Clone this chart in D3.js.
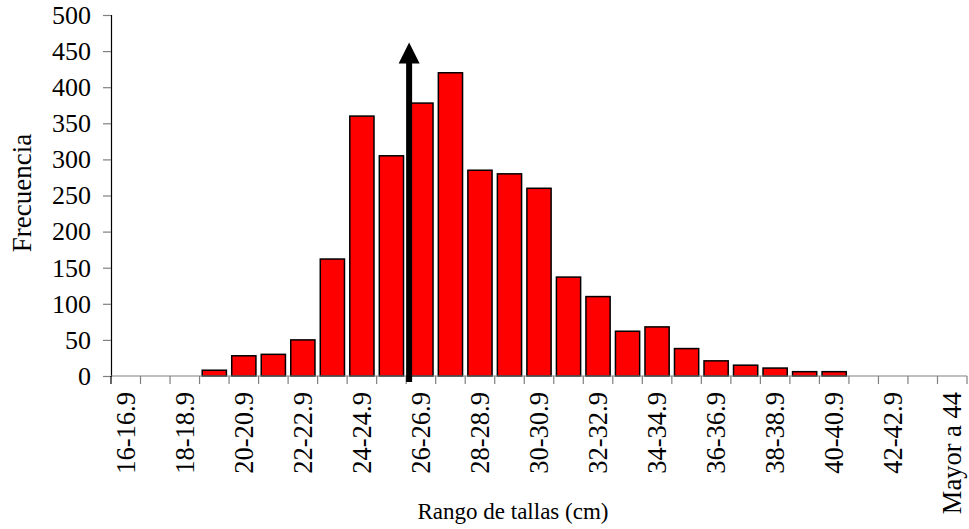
<!DOCTYPE html>
<html>
<head>
<meta charset="utf-8">
<script src="https://cdn.jsdelivr.net/npm/d3@7"></script>
<style>
  body { margin: 0; background: #fff; }
</style>
</head>
<body>
<svg id="chart" width="969" height="529"></svg>
<script>
// categorias de talla (cm) y frecuencias
var categorias = ['16-16.9','17-17.9','18-18.9','19-19.9','20-20.9','21-21.9','22-22.9','23-23.9',
                  '24-24.9','25-25.9','26-26.9','27-27.9','28-28.9','29-29.9','30-30.9','31-31.9',
                  '32-32.9','33-33.9','34-34.9','35-35.9','36-36.9','37-37.9','38-38.9','39-39.9',
                  '40-40.9','41-41.9','42-42.9','43-43.9','Mayor a 44'];
var frecuencias = [0,0,0,8,28,30,50,162,360,305,378,420,285,280,260,137,110,62,68,38,21,15,11,6,6,0,0,0,0];
var yTicks = [0,50,100,150,200,250,300,350,400,450,500];
// flecha: categoria, desplazamiento dentro de la banda, valor del extremo superior
var flechaCategoria = '26-26.9';
var flechaDesplaz = 0.1;
var flechaTope = 462;

var fuente = '"Liberation Serif", "Times New Roman", serif';
var svg = d3.select('#chart');
var mLeft = 111, mRight = 967, mTop = 15, mBottom = 376;

var x = d3.scaleBand().domain(categorias).range([mLeft, mRight]).paddingInner(0.18).paddingOuter(0.09);
var y = d3.scaleLinear().domain([0, 500]).range([mBottom, mTop]);

var datos = categorias.map(function(c, i){ return {cat: c, val: frecuencias[i]}; });

// barras
svg.append('g').selectAll('rect')
  .data(datos.filter(function(d){ return d.val > 0; }))
  .enter().append('rect')
  .attr('x', function(d){ return x(d.cat); })
  .attr('y', function(d){ return y(d.val); })
  .attr('width', x.bandwidth())
  .attr('height', function(d){ return mBottom - y(d.val); })
  .attr('fill', '#ff0000')
  .attr('stroke', '#000')
  .attr('stroke-width', 1.5);

// eje y
var yAxis = svg.append('g').attr('transform', 'translate(' + mLeft + ',0)')
  .call(d3.axisLeft(y).tickValues(yTicks).tickSize(8).tickPadding(12));
yAxis.select('.domain').attr('stroke', '#000').attr('stroke-width', 1.2);
yAxis.selectAll('.tick line').attr('stroke', '#808080').attr('stroke-width', 1.2);
yAxis.selectAll('.tick text')
  .style('font-size', '26px').style('font-family', fuente).attr('fill', '#000');

// eje x: linea y marcas en los limites de cada categoria
var step = x.step();
var xStart = x(categorias[0]) - x.paddingOuter() * step;
var limites = d3.range(categorias.length + 1).map(function(i){ return xStart + i * step; });
svg.append('line')
  .attr('x1', mLeft).attr('x2', mRight).attr('y1', mBottom).attr('y2', mBottom)
  .attr('stroke', '#808080').attr('stroke-width', 1.2);
svg.append('g').selectAll('line')
  .data(limites)
  .enter().append('line')
  .attr('x1', function(d){ return d; }).attr('x2', function(d){ return d; })
  .attr('y1', mBottom).attr('y2', mBottom + 8)
  .attr('stroke', function(d, i){ return i === 0 ? '#000' : '#808080'; })
  .attr('stroke-width', 1.2);

// etiquetas, una de cada dos
svg.append('g').selectAll('text')
  .data(categorias.filter(function(d, i){ return i % 2 === 0; }))
  .enter().append('text')
  .attr('transform', function(d){
    return 'translate(' + (x(d) + x.bandwidth() / 2 + 9) + ',' + (mBottom + 16) + ') rotate(-90)';
  })
  .attr('text-anchor', 'end')
  .style('font-family', fuente)
  .style('font-size', '26.5px')
  .text(function(d){ return d; });

// titulos
svg.append('text')
  .attr('transform', 'translate(31,193) rotate(-90)')
  .attr('text-anchor', 'middle')
  .style('font-family', fuente)
  .style('font-size', '27px')
  .text('Frecuencia');
svg.append('text')
  .attr('x', 513).attr('y', 519)
  .attr('text-anchor', 'middle')
  .style('font-family', fuente)
  .style('font-size', '23px')
  .text('Rango de tallas (cm)');

// flecha
var fx = x(flechaCategoria) - x.paddingInner() * step / 2 + flechaDesplaz * step;
var headTop = y(flechaTope);
svg.append('line')
  .attr('x1', fx).attr('x2', fx)
  .attr('y1', mBottom + 6).attr('y2', headTop + 18)
  .attr('stroke', '#000').attr('stroke-width', 6);
svg.append('path')
  .attr('d', 'M' + fx + ',' + headTop + 'L' + (fx - 10.5) + ',' + (headTop + 21) + 'L' + (fx + 10.5) + ',' + (headTop + 21) + 'Z')
  .attr('fill', '#000');
</script>
</body>
</html>
